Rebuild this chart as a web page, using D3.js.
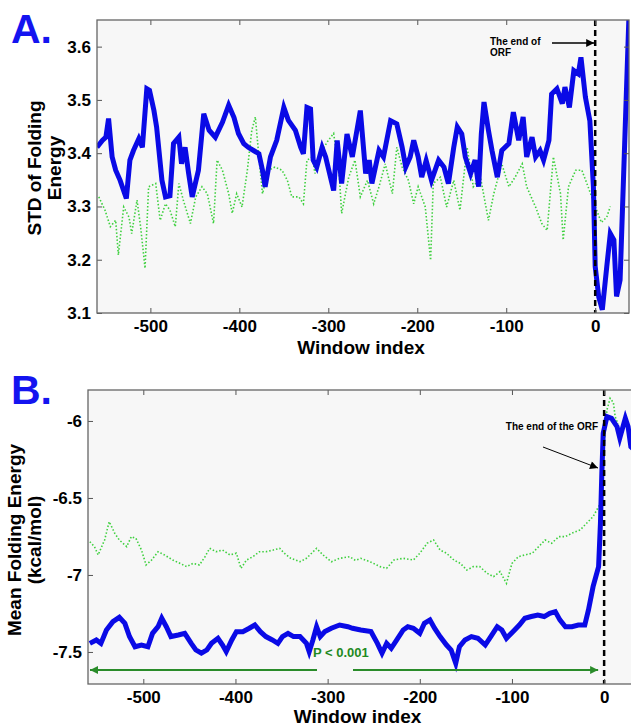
<!DOCTYPE html>
<html lang="en">
<head>
<meta charset="UTF-8">
<title>Folding energy around ORF end</title>
<script src="https://d3js.org/d3.v7.min.js"></script>
<style>
    body { margin: 0; background: #fff; }
    svg { display: block; font-family: "Liberation Sans", Arial, sans-serif; }
    .tick text { font-weight: bold; fill: #000; }
    .tick line { stroke: #555; }
</style>
</head>
<body>
<svg width="631" height="726"></svg>
<script>
    // ---- data: [window index, value] ----
    const stdBlue = [[-560,3.411],[-554,3.424],[-550,3.43],[-547,3.465],[-543,3.393],[-539,3.368],[-534,3.349],[-527,3.315],
        [-523,3.387],[-519,3.405],[-513,3.427],[-509,3.411],[-504,3.521],[-501,3.518],[-496,3.48],[-493,3.449],[-487,3.349],
        [-483,3.318],[-478,3.32],[-474,3.418],[-468,3.43],[-465,3.38],[-461,3.411],[-457,3.362],[-453,3.318],[-446,3.368],
        [-440,3.474],[-434,3.443],[-427,3.43],[-419,3.458],[-412,3.49],[-406,3.467],[-401,3.437],[-395,3.418],[-390,3.411],
        [-384,3.405],[-378,3.399],[-374,3.368],[-371,3.337],[-365,3.393],[-358,3.424],[-350,3.486],[-345,3.462],[-337,3.443],
        [-331,3.411],[-328,3.399],[-324,3.486],[-320,3.483],[-317,3.387],[-313,3.374],[-307,3.411],[-303,3.393],[-294,3.33],
        [-290,3.424],[-285,3.343],[-279,3.436],[-273,3.393],[-264,3.48],[-258,3.362],[-254,3.387],[-251,3.343],[-247,3.374],
        [-243,3.405],[-238,3.393],[-230,3.461],[-223,3.455],[-217,3.411],[-213,3.374],[-208,3.393],[-204,3.424],[-199,3.393],
        [-195,3.355],[-190,3.386],[-184,3.349],[-176,3.387],[-170,3.374],[-165,3.343],[-159,3.411],[-155,3.449],[-150,3.436],
        [-146,3.393],[-140,3.362],[-135,3.387],[-131,3.337],[-128,3.436],[-125,3.496],[-120,3.443],[-116,3.405],[-110,3.355],
        [-105,3.405],[-97,3.418],[-92,3.477],[-86,3.424],[-81,3.468],[-77,3.393],[-71,3.43],[-67,3.393],[-62,3.405],[-58,3.387],
        [-52,3.424],[-49,3.511],[-43,3.521],[-37,3.493],[-34,3.524],[-29,3.486],[-24,3.555],[-19,3.549],[-16,3.58],[-11,3.505],
        [-6,3.461],[-2,3.337],[0,3.187],[4,3.13],[8,3.106],[13,3.187],[17,3.249],[21,3.237],[24,3.131],[28,3.162],[34,3.461],[38,3.66]];

    const stdGreen = [[-558,3.318],[-551,3.293],[-545,3.262],[-539,3.274],[-536,3.209],[-530,3.299],[-524,3.28],[-521,3.249],
        [-515,3.312],[-511,3.262],[-506,3.184],[-502,3.337],[-494,3.343],[-489,3.274],[-483,3.305],[-478,3.293],[-472,3.262],
        [-468,3.343],[-463,3.312],[-455,3.268],[-449,3.318],[-442,3.337],[-436,3.324],[-429,3.268],[-425,3.387],[-419,3.368],
        [-412,3.324],[-408,3.287],[-403,3.324],[-397,3.299],[-391,3.368],[-386,3.443],[-382,3.468],[-378,3.393],[-374,3.324],
        [-367,3.368],[-360,3.374],[-352,3.368],[-346,3.349],[-341,3.318],[-333,3.318],[-328,3.305],[-324,3.387],[-318,3.393],
        [-315,3.362],[-307,3.405],[-300,3.424],[-294,3.437],[-288,3.368],[-285,3.287],[-277,3.355],[-270,3.387],[-264,3.318],
        [-256,3.349],[-249,3.305],[-243,3.337],[-236,3.38],[-228,3.324],[-223,3.411],[-217,3.374],[-210,3.349],[-204,3.305],
        [-199,3.337],[-191,3.299],[-185,3.199],[-182,3.343],[-174,3.355],[-167,3.299],[-159,3.349],[-152,3.293],[-144,3.411],
        [-137,3.337],[-129,3.355],[-120,3.274],[-114,3.324],[-105,3.38],[-97,3.337],[-90,3.355],[-82,3.38],[-77,3.337],
        [-67,3.299],[-60,3.268],[-54,3.255],[-47,3.393],[-39,3.324],[-36,3.237],[-30,3.337],[-22,3.368],[-15,3.368],[-8,3.337],
        [0,3.3],[7,3.27],[13,3.28],[17,3.3]];

    const meanBlue = [[-558,-7.444],[-551,-7.422],[-546,-7.444],[-540,-7.357],[-533,-7.303],[-526,-7.275],[-520,-7.314],
        [-515,-7.4],[-509,-7.466],[-502,-7.455],[-495,-7.466],[-490,-7.379],[-484,-7.336],[-480,-7.281],[-475,-7.336],[-470,-7.4],
        [-462,-7.39],[-455,-7.379],[-448,-7.444],[-443,-7.487],[-437,-7.508],[-431,-7.487],[-426,-7.444],[-419,-7.411],
        [-414,-7.455],[-410,-7.498],[-404,-7.422],[-399,-7.368],[-392,-7.368],[-385,-7.346],[-379,-7.325],[-373,-7.368],
        [-367,-7.4],[-360,-7.422],[-354,-7.444],[-349,-7.4],[-343,-7.379],[-337,-7.4],[-330,-7.4],[-323,-7.444],[-320,-7.498],
        [-316,-7.422],[-312,-7.336],[-308,-7.4],[-303,-7.368],[-296,-7.346],[-287,-7.325],[-278,-7.336],[-273,-7.346],
        [-264,-7.357],[-253,-7.368],[-246,-7.444],[-241,-7.508],[-236,-7.444],[-231,-7.476],[-225,-7.422],[-218,-7.357],
        [-213,-7.336],[-207,-7.346],[-200,-7.379],[-195,-7.314],[-189,-7.292],[-184,-7.346],[-178,-7.4],[-171,-7.455],
        [-166,-7.487],[-161,-7.574],[-157,-7.466],[-151,-7.422],[-144,-7.4],[-137,-7.411],[-129,-7.455],[-123,-7.4],
        [-116,-7.336],[-111,-7.357],[-106,-7.411],[-99,-7.368],[-92,-7.325],[-86,-7.281],[-79,-7.27],[-72,-7.26],[-65,-7.27],
        [-59,-7.249],[-53,-7.238],[-48,-7.292],[-42,-7.336],[-35,-7.336],[-28,-7.325],[-21,-7.325],[-17,-7.227],[-12,-7.076],
        [-6,-6.946],[-4,-6.664],[-2.5,-6.34],[-1,-6.08],[3,-5.972],[8,-5.983],[14,-6.037],[17,-6.11],[23,-5.983],[26,-6.037],
        [29,-6.167],[35,-6.2]];

    const meanGreen = [[-558,-6.784],[-553,-6.816],[-549,-6.87],[-542,-6.773],[-537,-6.654],[-531,-6.729],[-526,-6.773],
        [-518,-6.816],[-513,-6.751],[-508,-6.762],[-502,-6.838],[-497,-6.935],[-491,-6.903],[-484,-6.849],[-477,-6.87],
        [-468,-6.903],[-460,-6.925],[-453,-6.946],[-446,-6.925],[-439,-6.935],[-433,-6.881],[-428,-6.827],[-421,-6.849],
        [-414,-6.838],[-406,-6.87],[-399,-6.859],[-394,-6.957],[-388,-6.903],[-381,-6.881],[-374,-6.849],[-367,-6.849],
        [-359,-6.838],[-352,-6.827],[-347,-6.859],[-340,-6.892],[-330,-6.914],[-323,-6.892],[-312,-6.827],[-305,-6.87],
        [-296,-6.914],[-287,-6.892],[-276,-6.881],[-270,-6.905],[-264,-6.892],[-254,-6.914],[-243,-6.946],[-236,-6.957],
        [-228,-6.903],[-218,-6.892],[-207,-6.903],[-200,-6.859],[-192,-6.794],[-185,-6.773],[-178,-6.838],[-171,-6.859],
        [-163,-6.903],[-156,-6.925],[-149,-6.968],[-142,-6.946],[-135,-6.946],[-127,-6.989],[-120,-7.011],[-113,-6.978],
        [-106,-7.054],[-100,-6.925],[-93,-6.881],[-86,-6.87],[-78,-6.859],[-71,-6.816],[-64,-6.773],[-57,-6.794],[-49,-6.751],
        [-42,-6.751],[-35,-6.729],[-26,-6.708],[-19,-6.664],[-12,-6.621],[-4,-6.535],[-1,-6.232],[3,-5.929],[6.5,-5.853],
        [10,-5.88],[12,-5.972],[15,-6.02]];

    const xTicks = [-500, -400, -300, -200, -100, 0];
    const stdTicks = [3.1, 3.2, 3.3, 3.4, 3.5, 3.6];
    const meanTicks = [-7.5, -7, -6.5, -6];

    const svg = d3.select("svg");

    function panel(cfg) {
        const g = svg.append("g");
        const x = d3.scaleLinear().domain(cfg.xDomain).range([cfg.left, cfg.right]);
        const y = d3.scaleLinear().domain(cfg.yDomain).range([cfg.bottom, cfg.top]);
        const w = cfg.right - cfg.left, h = cfg.bottom - cfg.top;

        g.append("rect")
            .attr("x", cfg.left).attr("y", cfg.top)
            .attr("width", w).attr("height", h)
            .attr("fill", "#f7f7f7");

        g.append("clipPath").attr("id", cfg.id)
            .append("rect")
            .attr("x", cfg.left).attr("y", cfg.top)
            .attr("width", w).attr("height", h);

        const line = d3.line().x(d => x(d[0])).y(d => y(d[1]));
        const plot = g.append("g").attr("clip-path", "url(#" + cfg.id + ")");

        plot.append("path").datum(cfg.green)
            .attr("fill", "none")
            .attr("stroke", "#3fd03f")
            .attr("stroke-width", 1.6)
            .attr("stroke-dasharray", "1.5,2")
            .attr("d", line);

        plot.append("path").datum(cfg.blue)
            .attr("fill", "none")
            .attr("stroke", "#0a0ae6")
            .attr("stroke-width", 5)
            .attr("stroke-linejoin", "miter")
            .attr("d", line);

        // dashed line at the end of the ORF
        plot.append("line")
            .attr("x1", x(0)).attr("x2", x(0))
            .attr("y1", cfg.top).attr("y2", cfg.bottom)
            .attr("stroke", "#000")
            .attr("stroke-width", 2.5)
            .attr("stroke-dasharray", "6,4");

        const fmt = d => String(d);

        g.append("g").attr("transform", "translate(0," + cfg.bottom + ")")
            .call(d3.axisBottom(x).tickValues(xTicks).tickSize(-5).tickPadding(7).tickFormat(fmt))
            .call(a => a.select(".domain").remove())
            .selectAll("text").style("font-size", "17px");

        g.append("g").attr("transform", "translate(0," + cfg.top + ")")
            .call(d3.axisTop(x).tickValues(xTicks).tickSize(-5).tickFormat(""))
            .call(a => a.select(".domain").remove());

        g.append("g").attr("transform", "translate(" + cfg.left + ",0)")
            .call(d3.axisLeft(y).tickValues(cfg.yTicks).tickSize(-5).tickPadding(cfg.yPad).tickFormat(fmt))
            .call(a => a.select(".domain").remove())
            .selectAll("text").style("font-size", "17px");

        g.append("g").attr("transform", "translate(" + cfg.right + ",0)")
            .call(d3.axisRight(y).tickValues(cfg.yTicks).tickSize(-5).tickFormat(""))
            .call(a => a.select(".domain").remove());

        g.append("rect")
            .attr("x", cfg.left).attr("y", cfg.top)
            .attr("width", w).attr("height", h)
            .attr("fill", "none")
            .attr("stroke", "#666")
            .attr("stroke-width", 1.3);

        g.append("text")
            .attr("x", (cfg.left + Math.min(cfg.right, 631)) / 2 - 2)
            .attr("y", cfg.xLabelY)
            .attr("text-anchor", "middle")
            .style("font-size", "19px").style("font-weight", "bold")
            .text("Window index");

        cfg.yLabel.forEach((t, i) => {
            g.append("text")
                .attr("transform", "translate(" + cfg.yLabelX[i] + "," + cfg.yLabelMid + ") rotate(-90)")
                .attr("text-anchor", "middle")
                .style("font-size", "19px").style("font-weight", "bold")
                .text(t);
        });

        g.append("text")
            .attr("x", 11).attr("y", cfg.letterY)
            .style("font-size", "41px").style("font-weight", "bold")
            .attr("fill", "#1414f0")
            .text(cfg.letter);

        return { g, x, y };
    }

    const defs = svg.append("defs");
    function marker(id, color) {
        defs.append("marker").attr("id", id)
            .attr("viewBox", "0 0 10 10").attr("refX", 10).attr("refY", 5)
            .attr("markerWidth", 10).attr("markerHeight", 8)
            .attr("markerUnits", "userSpaceOnUse")
            .attr("orient", "auto")
            .append("path").attr("d", "M0,0 L10,5 L0,10 Z").attr("fill", color);
    }
    marker("headBlack", "#000");
    marker("headGreen", "#2a8c2a");

    // ---- panel A ----
    const A = panel({
        id: "clipA", letter: "A.", letterY: 43,
        left: 97, right: 629, top: 20, bottom: 313,
        xDomain: [-560, 38], yDomain: [3.1, 3.65],
        yTicks: stdTicks, yPad: 6,
        blue: stdBlue, green: stdGreen,
        xLabelY: 354, yLabel: ["STD of Folding", "Energy"], yLabelX: [41, 61], yLabelMid: 168
    });

    A.g.append("text").attr("x", 490).attr("y", 45)
        .style("font-size", "10px").style("font-weight", "bold").text("The end of");
    A.g.append("text").attr("x", 490).attr("y", 56)
        .style("font-size", "10px").style("font-weight", "bold").text("ORF");
    A.g.append("line")
        .attr("x1", 552).attr("y1", 43).attr("x2", A.x(0) - 1).attr("y2", 43)
        .attr("stroke", "#000").attr("stroke-width", 1.5)
        .attr("marker-end", "url(#headBlack)");

    // ---- panel B ----
    const B = panel({
        id: "clipB", letter: "B.", letterY: 404,
        left: 88, right: 641, top: 390, bottom: 684,
        xDomain: [-560, 40], yDomain: [-7.708, -5.799],
        yTicks: meanTicks, yPad: 6,
        blue: meanBlue, green: meanGreen,
        xLabelY: 723, yLabel: ["Mean Folding Energy", "(kcal/mol)"], yLabelX: [21, 41], yLabelMid: 540
    });

    B.g.append("text").attr("x", 598).attr("y", 430)
        .attr("text-anchor", "end")
        .style("font-size", "10px").style("font-weight", "bold").text("The end of the ORF");
    B.g.append("line")
        .attr("x1", 543).attr("y1", 447).attr("x2", 598).attr("y2", 468)
        .attr("stroke", "#000").attr("stroke-width", 1)
        .attr("marker-end", "url(#headBlack)");

    B.g.append("text").attr("x", 313).attr("y", 657)
        .attr("fill", "#1f8a1f")
        .style("font-size", "13px").style("font-weight", "bold").text("P < 0.001");
    B.g.append("line")
        .attr("x1", 317).attr("y1", 670).attr("x2", B.x(-560) + 2).attr("y2", 670)
        .attr("stroke", "#2a8c2a").attr("stroke-width", 2)
        .attr("marker-end", "url(#headGreen)");
    B.g.append("line")
        .attr("x1", 353).attr("y1", 670).attr("x2", B.x(0) - 6).attr("y2", 670)
        .attr("stroke", "#2a8c2a").attr("stroke-width", 2)
        .attr("marker-end", "url(#headGreen)");
</script>
</body>
</html>
